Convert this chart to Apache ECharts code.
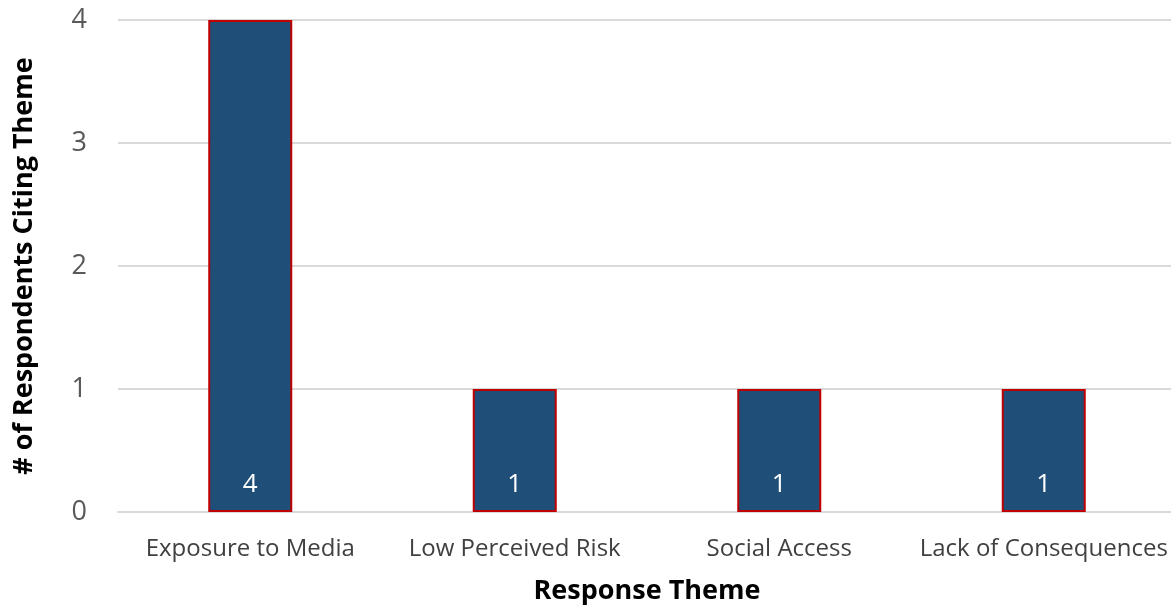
<!DOCTYPE html>
<html>
<head>
<meta charset="utf-8">
<script src="https://cdn.jsdelivr.net/npm/echarts@6/dist/echarts.min.js"></script>
<style>
  html, body { margin: 0; padding: 0; background: #fff; }
  #chart { width: 1171px; height: 605px; }
</style>
</head>
<body>
<div id="chart"></div>
<script>
// Themes cited by respondents and how many respondents cited each
const categories = ['Exposure to Media', 'Low Perceived Risk', 'Social Access', 'Lack of Consequences'];
const respondentCounts = [4, 1, 1, 1];
const yTicks = [0, 1, 2, 3, 4];

const FONT = '"Open Sans", Lato, sans-serif';

const chart = echarts.init(document.getElementById('chart'));
chart.setOption({
  animation: false,
  grid: { left: 118, top: 20, right: -5, bottom: 93, containLabel: false, outerBoundsMode: 'none' },
  xAxis: {
    type: 'category',
    data: categories,
    name: 'Response Theme',
    nameLocation: 'middle',
    nameGap: 66,
    nameTextStyle: { fontFamily: FONT, fontSize: 27, fontWeight: 'bold', color: '#000' },
    axisLine: { show: true, lineStyle: { color: '#d9d9d9', width: 2 } },
    axisTick: { show: false },
    axisLabel: { interval: 0, fontFamily: FONT, fontSize: 24, color: '#404040', margin: 25 }
  },
  yAxis: {
    type: 'value',
    min: yTicks[0],
    max: yTicks[yTicks.length - 1],
    interval: 1,
    name: '# of Respondents Citing Theme',
    nameLocation: 'middle',
    nameGap: 80,
    nameTextStyle: { fontFamily: FONT, fontSize: 27, fontWeight: 'bold', color: '#000' },
    axisLine: { show: false },
    axisTick: { show: false },
    axisLabel: { fontFamily: FONT, fontSize: 27, color: '#595959', margin: 31 },
    splitLine: { lineStyle: { color: '#d9d9d9', width: 2 } }
  },
  series: [{
    type: 'bar',
    data: respondentCounts,
    barWidth: 84,
    itemStyle: { color: '#1f4e79', borderColor: '#c00000', borderWidth: 2 },
    label: {
      show: true,
      position: 'insideBottom',
      distance: 14,
      fontFamily: FONT,
      fontSize: 26,
      color: '#ffffff'
    }
  }]
});
</script>
</body>
</html>
